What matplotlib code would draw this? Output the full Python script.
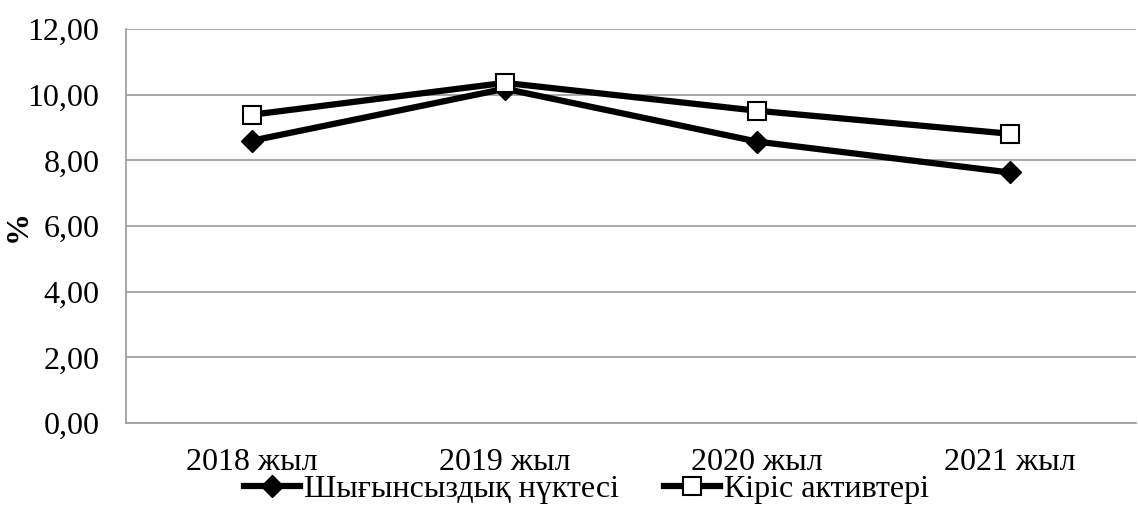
import matplotlib
matplotlib.use("Agg")
import matplotlib.pyplot as plt
from matplotlib.ticker import FuncFormatter

plt.rcParams['font.family'] = ['Liberation Serif', 'DejaVu Serif']

years = ["2018 жыл", "2019 жыл", "2020 жыл", "2021 жыл"]
breakeven = [8.60, 10.18, 8.57, 7.63]
income_assets = [9.39, 10.36, 9.51, 8.81]

fig = plt.figure(figsize=(11.38, 5.05), dpi=100)
ax = fig.add_axes([126 / 1138, (505 - 423) / 505, (1136 - 126) / 1138, (423 - 29) / 505])

x = list(range(len(years)))
ax.plot(x, breakeven, color="black", linewidth=4.5, marker="D", markersize=11,
        markerfacecolor="black", markeredgecolor="black", label="Шығынсыздық нүктесі", zorder=3)
ax.plot(x, income_assets, color="black", linewidth=4.5, marker="s", markersize=13,
        markerfacecolor="white", markeredgecolor="black", markeredgewidth=1.5,
        label="Кіріс активтері", zorder=4)

ax.set_xlim(-0.5, 3.5)
ax.set_ylim(0, 12)
ax.set_yticks([0, 2, 4, 6, 8, 10, 12])
ax.yaxis.set_major_formatter(FuncFormatter(lambda v, p: f"{v:.2f}".replace(".", ",")))
ax.set_xticks(x)
ax.set_xticklabels(years)
ax.grid(axis="y", color="#a0a0a0", linewidth=1.3)
ax.set_axisbelow(True)
for s in ["top", "right"]:
    ax.spines[s].set_visible(False)
for s in ["bottom", "left"]:
    ax.spines[s].set_color("#a0a0a0")
    ax.spines[s].set_linewidth(1.3)
ax.tick_params(axis="both", length=0, labelsize=23)
ax.tick_params(axis="y", pad=19)
ax.tick_params(axis="x", pad=18)

# y label placed by hand so it is not cut at the left edge
fig.text(18 / 1138, 1 - 226 / 505, "%", fontsize=23, fontweight="bold",
         rotation=90, ha="center", va="center")

ax.legend(loc="center", bbox_to_anchor=(0.456, -0.168), ncol=2, frameon=False,
          fontsize=23, handlelength=1.75, handletextpad=0.12, columnspacing=1.4,
          borderpad=0, borderaxespad=0)

fig.savefig("out.png", dpi=100)
